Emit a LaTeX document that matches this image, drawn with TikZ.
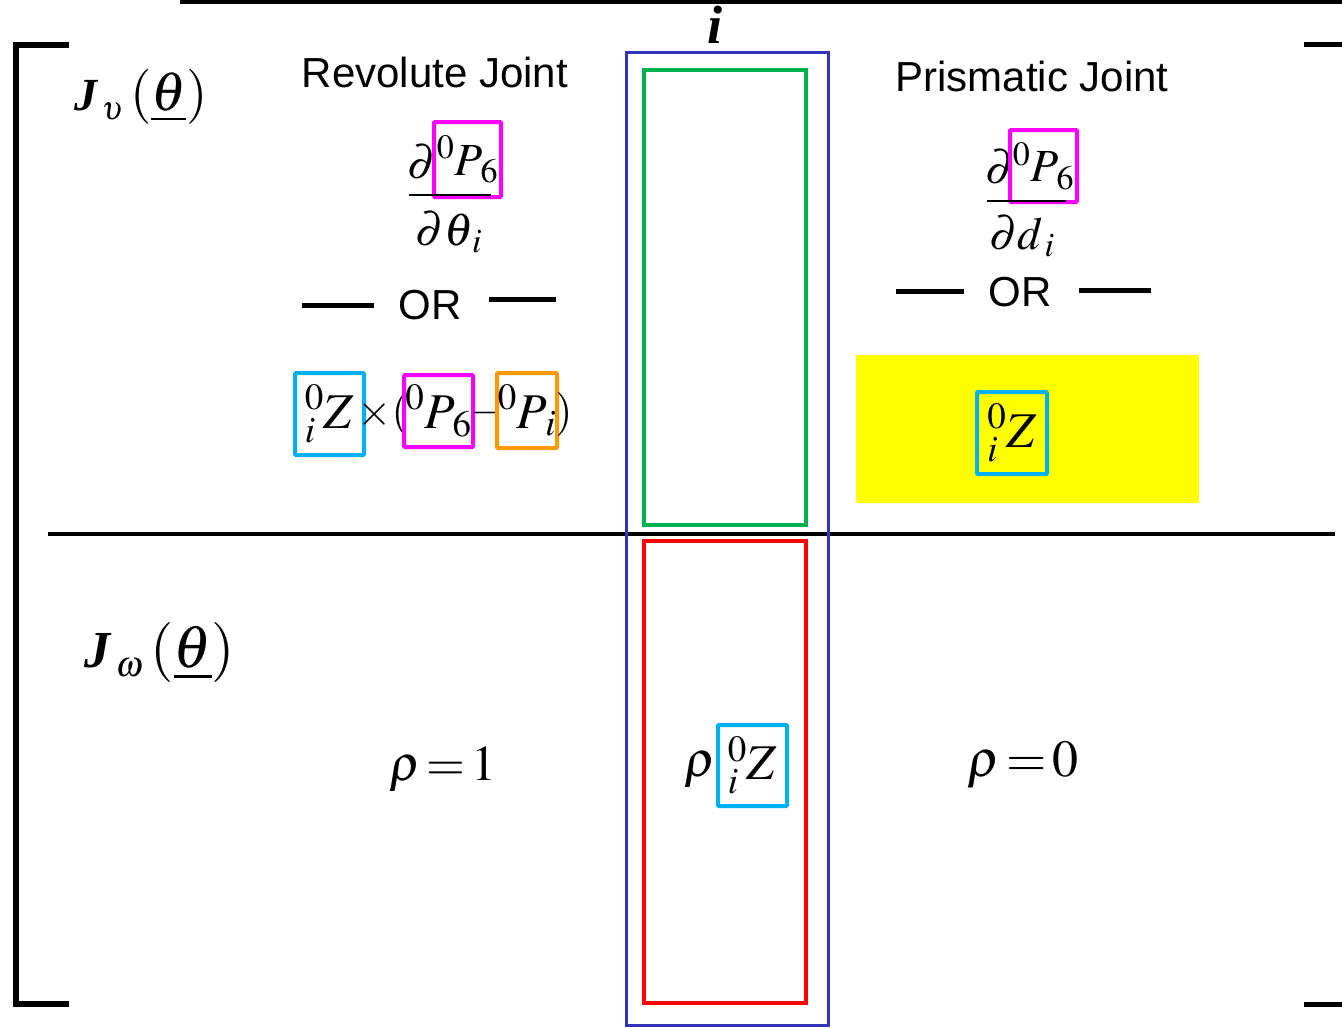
\documentclass[tikz,border=0pt]{standalone}
\usepackage{mathptmx}
\usepackage[no-math]{fontspec}
\setmainfont{Liberation Serif}
\setsansfont{Liberation Sans}
\newcommand{\fsz}[1]{\fontsize{#1}{#1}\selectfont}
\definecolor{colblue}{RGB}{51,51,187}
\definecolor{colgreen}{RGB}{0,176,80}
\definecolor{colcyan}{RGB}{0,176,240}
\definecolor{colorange}{RGB}{255,153,0}
\definecolor{colmag}{RGB}{255,0,255}
\definecolor{colyel}{RGB}{255,255,0}

\begin{document}
\begin{tikzpicture}[x=1pt,y=-1pt,
	txt/.style={inner sep=0pt},
	hl/.style={draw=#1,line width=4pt,inner sep=0pt,rounded corners=1pt}]
	\useasboundingbox (0,0) rectangle (1342,1028);
	% brackets and rules
	\draw[line width=4pt] (180,2) -- (1342,2);
	\draw[line width=6pt] (69,45) -- (16,45) -- (16,1004) -- (69,1004);
	\draw[line width=5pt] (1304,44) -- (1342,44);
	\draw[line width=5pt] (1304,1004) -- (1342,1004);
	\draw[line width=4pt] (48,534) -- (1335,534);
	% column i
	\draw[colblue,line width=3pt] (626,52) rectangle (828,1025);
	\draw[colgreen,line width=3.5pt] (644,70) rectangle (806,525);
	\draw[red,line width=3.5pt] (644,541) rectangle (806,1003);
	\node[txt,font=\fsz{54}\bfseries\itshape] (icol) at (715,25) {i};
	% row labels
	\node[txt,font=\fsz{55}] (jv) at (141,97) {$\mbox{\fsz{46}\bfseries\itshape J}_{\,\scriptscriptstyle\upsilon}\,(\underline{\theta})$};
	\node[txt,font=\fsz{60}] (jw) at (160,652) {$\mbox{\fsz{52}\bfseries\itshape J}_{\,\scriptscriptstyle\omega}\,(\underline{\theta})$};
	% revolute joint
	\node[txt,font=\sffamily\fsz{42}] (rev) at (435,72) {Revolute Joint};
	\node[txt,font=\fsz{46}] (rnd) at (422,162) {$\partial$};
	\node[hl=colmag,minimum width=67pt,minimum height=75pt,font=\fsz{46}] (rnp) at (467.5,159.5) {${}^{0}P_{\,6}$\hspace{12pt}};
	\draw[line width=1.5pt] (409,195) -- (491,195);
	\node[txt,font=\fsz{46}] (rden) at (449,232) {$\partial\theta_{\,i}$};
	\draw[line width=5pt] (302,305) -- (374,305);
	\node[txt,font=\sffamily\fsz{42}] (ror) at (430,305) {OR};
	\draw[line width=5pt] (489,299) -- (556,299);
	\node[hl=colcyan,minimum width=69pt,minimum height=82pt,font=\fsz{50}] (rz) at (329.5,414) {${}^{0}_{i}Z$};
	\node[txt,font=\fsz{44}] (rx) at (383,414) {$\times($};
	\node[hl=colmag,minimum width=69pt,minimum height=72pt,font=\fsz{50}] (rp6) at (438.5,411) {${}^{0}P_{\,6}$};
	\node[txt,font=\fsz{38}] (rmin) at (485,413) {$-$};
	\node[hl=colorange,minimum width=60pt,minimum height=75pt,font=\fsz{50}] (rpi) at (527,410.5) {${}^{0}P_{\,i}$};
	\node[txt,font=\fsz{44}] (rcl) at (564,414) {$)$};
	% prismatic joint
	\node[txt,font=\sffamily\fsz{42}] (pri) at (1032,76) {Prismatic Joint};
	\node[txt,font=\fsz{46}] (pnd) at (1000,167) {$\partial$};
	\node[hl=colmag,minimum width=67pt,minimum height=72pt,font=\fsz{46}] (pnp) at (1043.5,166) {${}^{0}P_{\,6}$\hspace{12pt}};
	\draw[line width=1.5pt] (987,201) -- (1066,201);
	\node[txt,font=\fsz{46}] (pden) at (1022,236) {$\partial d_{\,i}$};
	\draw[line width=5pt] (896,291) -- (964,291);
	\node[txt,font=\sffamily\fsz{42}] (por) at (1020,292) {OR};
	\draw[line width=5pt] (1079,290) -- (1151,290);
	\fill[colyel,rounded corners=2pt] (856,355) rectangle (1199,503);
	\node[hl=colcyan,minimum width=70pt,minimum height=82pt,font=\fsz{50}] (pz) at (1012,433) {${}^{0}_{i}Z$};
	% lower row
	\node[txt,font=\fsz{50}] (rho1) at (443,770) {$\rho\,{=}\,1$};
	\node[txt,font=\fsz{50}] (rhoi) at (700,770) {$\rho$};
	\node[hl=colcyan,minimum width=69pt,minimum height=81pt,font=\fsz{50}] (rhoz) at (752.5,765.5) {${}^{0}_{i}Z$\hspace{20pt}};
	\node[txt,font=\fsz{52}] (rho0) at (1023,765) {$\rho\,{=}\,0$};
\end{tikzpicture}
\end{document}
